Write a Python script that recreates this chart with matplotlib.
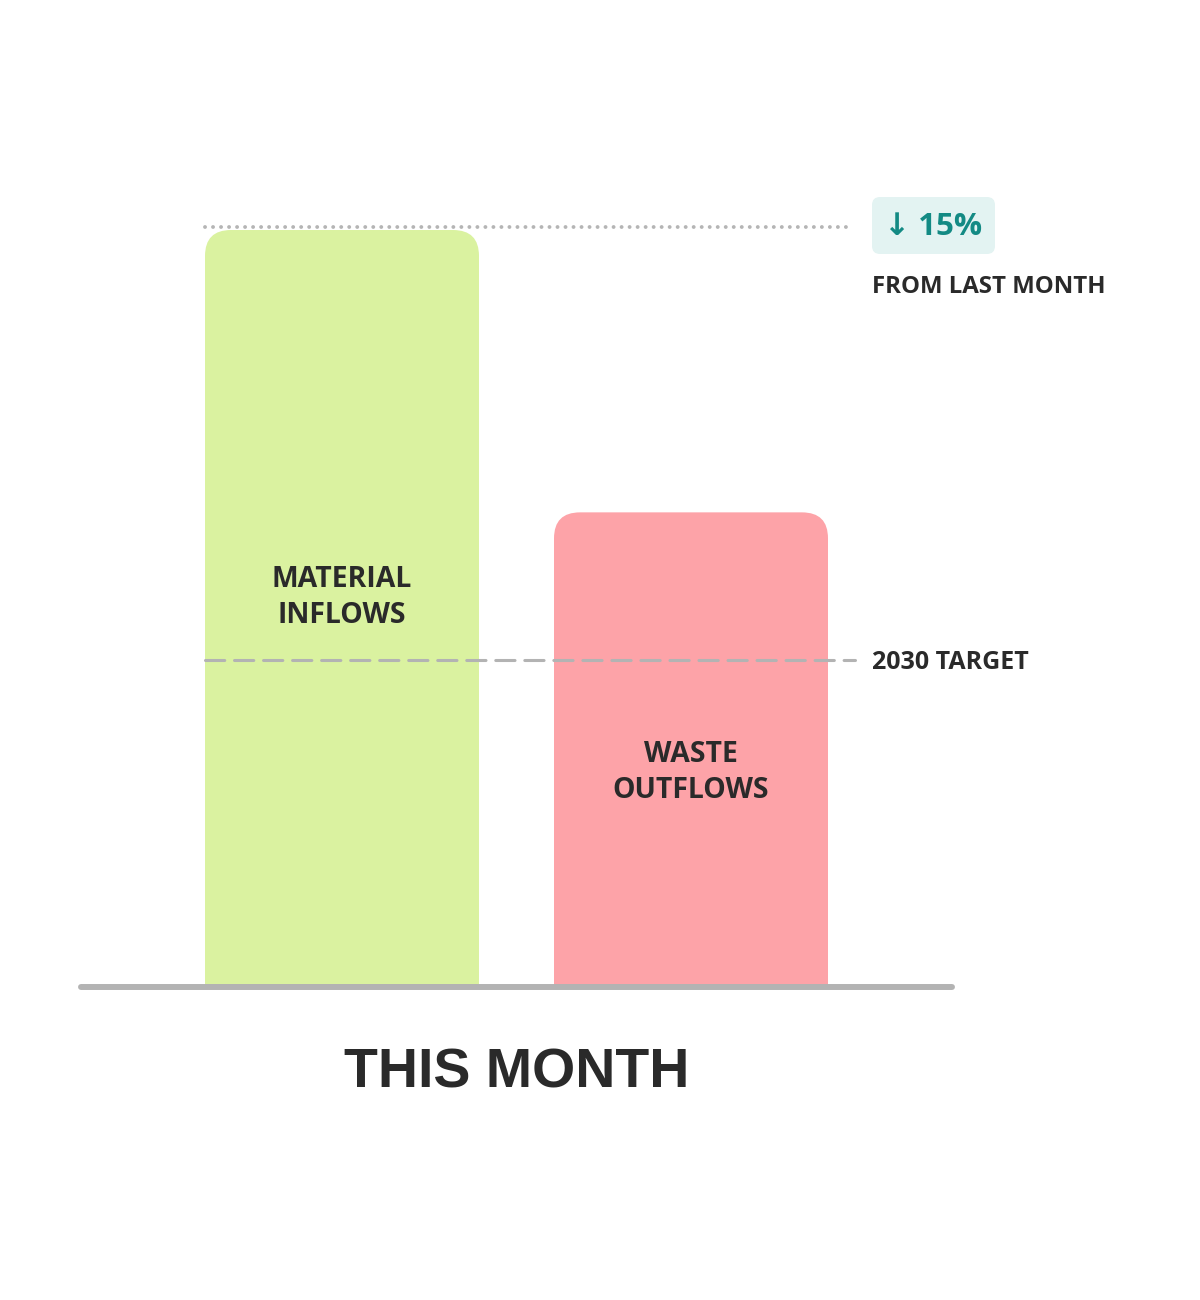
import matplotlib
matplotlib.use("Agg")
import matplotlib.pyplot as plt
from matplotlib.patches import FancyBboxPatch

# ---- data ----
categories = ["MATERIAL\nINFLOWS", "WASTE\nOUTFLOWS"]
values = [100.0, 62.7]
target_value = 43.2
target_label = "2030 TARGET"
change_text = "↓ 15%"
change_caption = "FROM LAST MONTH"
group_label = "THIS MONTH"
bar_colors = ["#DAF2A0", "#FDA3A8"]

W, H = 1200, 1300
fig = plt.figure(figsize=(12, 13), dpi=100)
fig.patch.set_facecolor("white")

# axes placement in pixels
ax_left, ax_right = 79, 954
ax_bottom, ax_top = 987, 130
ax = fig.add_axes([ax_left / W, 1 - ax_bottom / H, (ax_right - ax_left) / W, (ax_bottom - ax_top) / H])
ax.set_axis_off()

px_per_x = 349.0
px_per_y = 7.57
xlim = (-(342 - ax_left) / px_per_x, (ax_right - 342) / px_per_x)
ylim = (0, (ax_bottom - ax_top) / px_per_y)
ax.set_xlim(*xlim)
ax.set_ylim(*ylim)

bar_w = 274 / px_per_x
radius_px = 26
rx = radius_px / px_per_x
ry = radius_px / px_per_y
aspect = px_per_x / px_per_y

xs = list(range(len(values)))
ax.bar(xs, [v - ry for v in values], width=bar_w, color=bar_colors, linewidth=0, zorder=2)
for x, v, c in zip(xs, values, bar_colors):
    p = FancyBboxPatch((x - bar_w / 2, 0), bar_w, v,
                       boxstyle=f"round,pad=0,rounding_size={rx}",
                       mutation_aspect=aspect, facecolor=c, edgecolor="none", zorder=2)
    ax.add_patch(p)

text_color = "#2A2A2A"
label_font = "Open Sans"
label_frac = [0.515, 0.452]
for x, v, lab, f in zip(xs, values, categories, label_frac):
    ax.text(x, v * f, lab, ha="center", va="center", fontsize=20.4, fontweight="bold",
            family=label_font, color=text_color, linespacing=1.33, zorder=4)

# baseline
ax.plot([xlim[0] + 2 / px_per_x, xlim[1] - 2 / px_per_x], [0, 0], color="#B3B3B3", lw=4.3,
        solid_capstyle="round", clip_on=False, zorder=3)

# dotted line at top value
x_line_start = -bar_w / 2
ax.plot([x_line_start, (848 - 342) / px_per_x], [values[0] + 0.4, values[0] + 0.4],
        color="#B5B5B5", lw=2.8, linestyle=(0, (0.01, 2.05)), dash_capstyle="round",
        clip_on=False, zorder=3)

# dashed target line
ax.plot([x_line_start, (855 - 342) / px_per_x], [target_value, target_value],
        color="#B3B3B3", lw=2.2, linestyle=(0, (6.3, 3.2)), dash_capstyle="round",
        clip_on=False, zorder=5)
ax.text((872 - 342) / px_per_x, target_value - 2.5 / px_per_y, target_label, ha="left", va="center",
        fontsize=18, fontweight="bold", family=label_font, color=text_color, clip_on=False)

# badge
bx0 = (872 - 342) / px_per_x
bw = (995 - 872) / px_per_x
by_top = (ax_bottom - 197) / px_per_y
by_bot = (ax_bottom - 254) / px_per_y
badge = FancyBboxPatch((bx0, by_bot), bw, by_top - by_bot,
                       boxstyle=f"round,pad=0,rounding_size={8 / px_per_x}",
                       mutation_aspect=aspect, facecolor="#E3F3F2", edgecolor="none",
                       clip_on=False, zorder=3)
ax.add_patch(badge)
ax.text(bx0 + bw / 2, (by_top + by_bot) / 2 - 0.2, change_text, ha="center", va="center",
        fontsize=22.5, fontweight="bold", family=["Open Sans", "DejaVu Sans"], color="#138A84",
        clip_on=False, zorder=4)
ax.text(bx0, (ax_bottom - 287) / px_per_y, change_caption, ha="left", va="center",
        fontsize=17.3, fontweight="bold", family=label_font, color=text_color, clip_on=False)

# group label
ax.text(sum(xlim) / 2, -(1073 - ax_bottom) / px_per_y, group_label, ha="center", va="center",
        fontsize=40, fontweight="bold", family="Liberation Sans", color=text_color, clip_on=False)

fig.savefig("out.png", dpi=100, facecolor="white")
